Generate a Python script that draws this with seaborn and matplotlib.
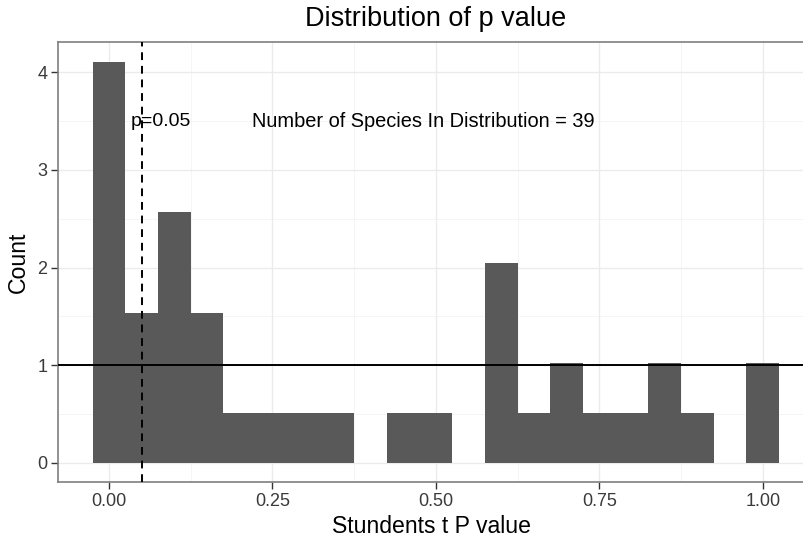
import numpy as np
import matplotlib
matplotlib.use("Agg")
import matplotlib.pyplot as plt
import seaborn as sns

# histogram bins (centre of each 0.05 bin) and number of species per bin
bin_centres = [0.00, 0.05, 0.10, 0.15, 0.20, 0.25, 0.30, 0.35, 0.40, 0.45, 0.50,
               0.55, 0.60, 0.65, 0.70, 0.75, 0.80, 0.85, 0.90, 0.95, 1.00]
species_counts = [8, 3, 5, 3, 1, 1, 1, 1, 0, 1, 1,
                  0, 4, 1, 2, 1, 1, 2, 1, 0, 2]
x_ticks = [0.00, 0.25, 0.50, 0.75, 1.00]
x_tick_labels = ["0.00", "0.25", "0.50", "0.75", "1.00"]
y_ticks = [0, 1, 2, 3, 4]
n_species = 39
cutoff = 0.05

sns.set_style("white")
plt.rcParams['font.family'] = ['Liberation Sans', 'DejaVu Sans']

fig = plt.figure(figsize=(8.04, 5.42), dpi=100)
ax = fig.add_axes([0.0725, 0.110, 0.9275, 0.8124])

# grid like theme_bw
for v in [0.125, 0.375, 0.625, 0.875]:
    ax.axvline(v, color="#f4f4f4", lw=0.6, zorder=0)
for v in [0.5, 1.5, 2.5, 3.5]:
    ax.axhline(v, color="#f4f4f4", lw=0.6, zorder=0)
for v in x_ticks:
    ax.axvline(v, color="#ebebeb", lw=1.0, zorder=0)
for v in y_ticks:
    ax.axhline(v, color="#ebebeb", lw=1.0, zorder=0)

sns.histplot(x=bin_centres, weights=species_counts, stat="density",
             bins=21, binrange=(-0.025, 1.025), color="#595959",
             alpha=1, edgecolor="none", linewidth=0, ax=ax, zorder=2)

ax.axhline(1, color="black", lw=1.4, zorder=3)
ax.axvline(cutoff, color="black", lw=1.4, ls=(0, (4, 3)), zorder=3)

ax.text(0.08, 3.5, "p=0.05", ha="center", va="center", fontsize=14, color="black", zorder=4)
ax.text(0.48, 3.5, "Number of Species In Distribution = %d" % n_species,
        ha="center", va="center", fontsize=14.4, color="black", zorder=4)

ax.set_xlim(-0.0776, 1.063)
ax.set_ylim(-0.201, 4.31)
ax.set_xticks(x_ticks)
ax.set_xticklabels(x_tick_labels)
ax.set_yticks(y_ticks)
ax.tick_params(axis="both", labelsize=13, labelcolor="#3a3a3a", color="#333333",
               length=5, width=1, direction="out", left=True, bottom=True, pad=3)

for side in ["left", "bottom", "top"]:
    ax.spines[side].set_color("#7f7f7f")
    ax.spines[side].set_linewidth(1.2)
ax.spines["right"].set_visible(False)

ax.set_xlabel("Stundents t P value", fontsize=16.6, color="black", labelpad=3)
ax.set_ylabel("Count", fontsize=16.6, color="black", labelpad=5)
ax.grid(False)

fig.text(0.542, 0.965, "Distribution of p value", ha="center", va="center",
         fontsize=19.5, color="black")

fig.savefig("out.png", dpi=100)
